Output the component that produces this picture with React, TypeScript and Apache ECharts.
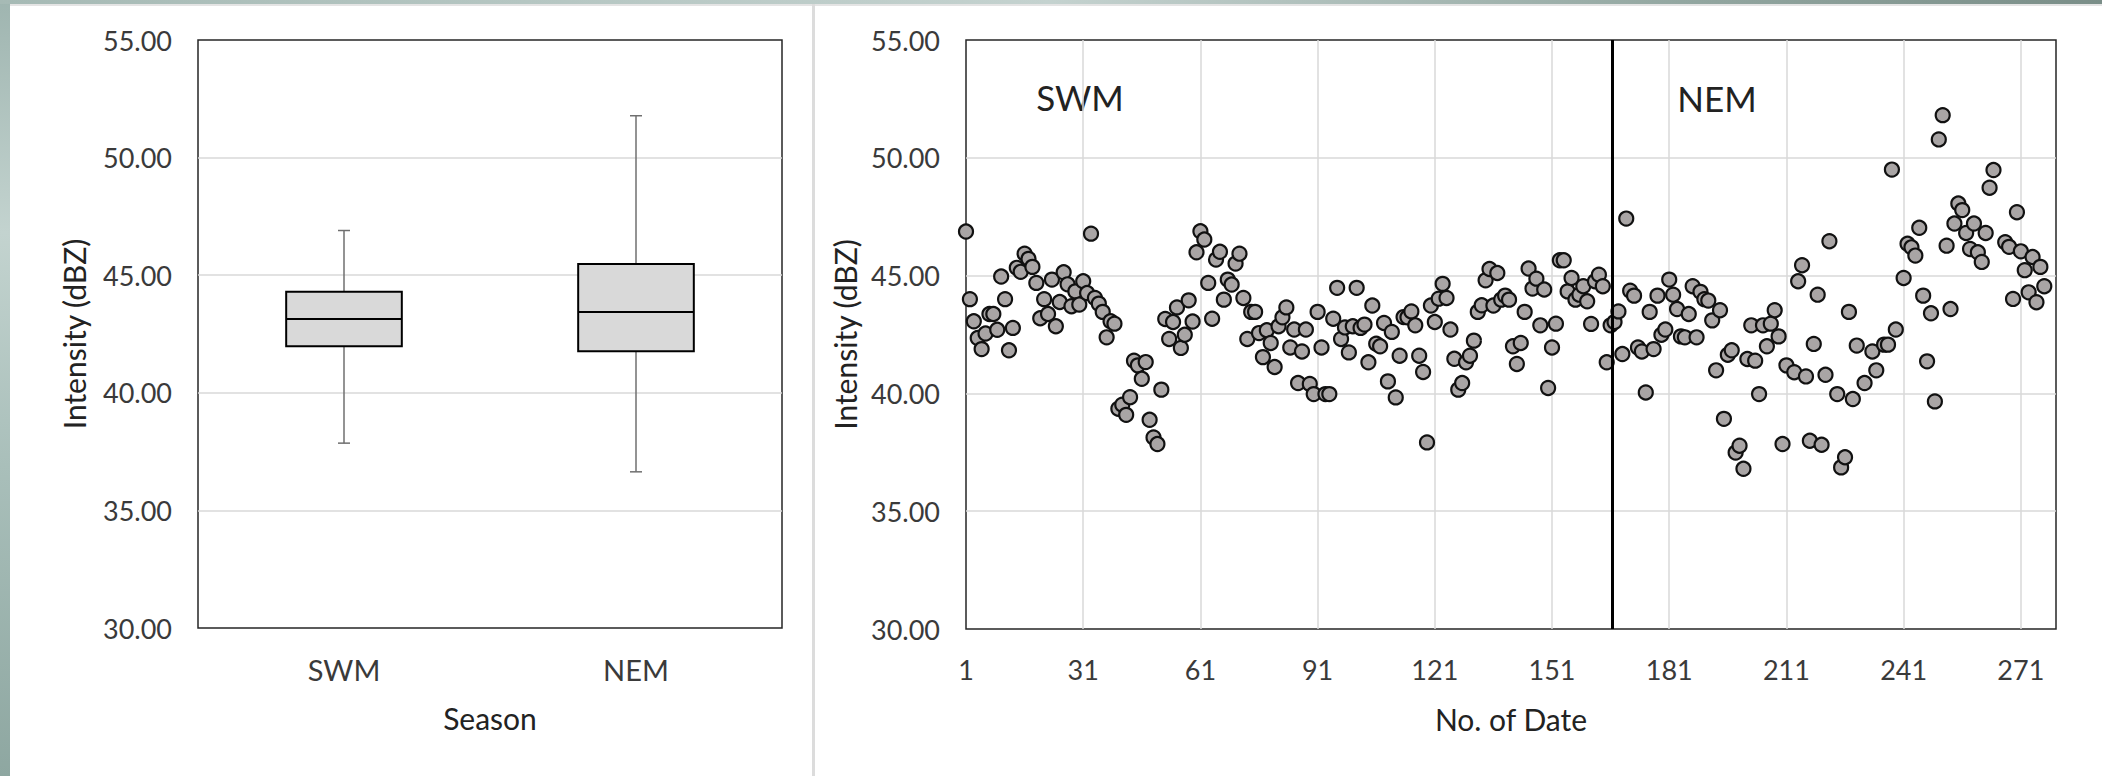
import React, { useEffect, useRef } from 'react';
import * as echarts from 'echarts';

// ---- Box plot (left panel) ----
const seasons = ['SWM', 'NEM'];
const whiskerLow = [37.86, 36.64];
const quartile1 = [41.98, 41.77];
const medians = [43.14, 43.44];
const quartile3 = [44.3, 45.48];
const whiskerHigh = [46.9, 51.78];

// ---- Daily intensity (right panel); position in array = No. of Date - 1 ----
const intensityByDate: (number | null)[] = [
  46.87, 44.0, 43.06, 42.35, 41.88, 42.54, 43.37, 43.37, 42.7, 44.96,
  44.0, 41.83, 42.78, 45.33, 45.16, 45.93, 45.71, 45.37, 44.69, 43.19,
  44.0, 43.37, 44.83, 42.85, 43.88, 45.14, 44.63, 43.7, 44.33, 43.77,
  44.76, 44.26, 46.78, 44.05, 43.81, 43.46, 42.38, 43.06, 42.96, 39.35,
  39.52, 39.09, 39.84, 41.39, 41.19, 40.62, 41.33, 38.88, 38.13, 37.85,
  40.16, 43.16, 42.31, 43.03, 43.65, 41.93, 42.49, 43.95, 43.05, 45.99,
  46.88, 46.53, 44.69, 43.17, 45.68, 46.01, 43.98, 44.83, 44.62, 45.51,
  45.93, 44.05, 42.31, 43.46, 43.46, 42.56, 41.54, 42.68, 42.14, 41.12,
  42.85, 43.23, 43.65, 41.95, 42.71, 40.44, 41.78, 42.71, 40.4, 39.97,
  43.46, 41.95, 39.97, 39.97, 43.17, 44.48, 42.31, 42.8, 41.74, 42.85,
  44.48, 42.78, 42.92, 41.32, 43.73, 42.11, 42.0, 42.99, 40.51, 42.61,
  39.83, 41.6, 43.24, 43.23, 43.48, 42.89, 41.6, 40.91, 37.92, 43.73,
  43.03, 44.02, 44.65, 44.05, 42.71, 41.47, 40.16, 40.44, 41.32, 41.6,
  42.24, 43.46, 43.74, 44.8, 45.28, 43.73, 45.11, 43.98, 44.15, 43.98,
  42.0, 41.25, 42.14, 43.46, 45.3, 44.45, 44.87, 42.89, 44.41, 40.23,
  41.95, 42.96, 45.65, 45.65, 44.33, 44.9, 43.98, 44.19, 44.55, 43.91,
  42.95, 44.76, 45.04, 44.55, 41.32, 42.89, 43.03, 43.48, 41.67, 47.42,
  44.36, 44.15, 41.95, 41.78, 40.04, 43.46, 41.88, 44.15, 42.49, 42.71,
  44.83, 44.19, 43.58, 42.42, 42.38, 43.37, 44.55, 42.38, 44.31, 44.0,
  43.94, 43.1, 40.98, 43.53, 38.92, 41.64, 41.83, 37.49, 37.78, 36.8,
  41.46, 42.89, 41.39, 39.97, 42.89, 42.0, 42.96, 43.53, 42.42, 37.85,
  41.19, null, 40.9, 44.76, 45.44, 40.72, 37.99, 42.1, 44.19, 37.82,
  40.79, 46.46, null, 39.97, 36.86, 37.29, 43.46, 39.76, 42.03, null,
  40.44, null, 41.78, 40.98, null, 42.07, 42.07, 49.5, 42.71, null,
  44.9, 46.35, 46.2, 45.85, 47.03, 44.15, 41.36, 43.4, 39.66, 50.78,
  51.81, 46.27, 43.58, 47.21, 48.06, 47.78, 46.81, 46.13, 47.21, 45.99,
  45.58, 46.81, 48.73, 49.48, null, null, 46.42, 46.22, 44.01, 47.69,
  46.03, 45.23, 44.29, 45.79, 43.87, 45.37, 44.55,
];
const seasonBoundary = 166.3; // No. of Date where NEM begins
const seasonLabels = ['SWM', 'NEM'];

const FONT = 'Lato, "Open Sans", "Noto Sans", sans-serif';
const TICK_COLOR = '#3a3a3a';
const TITLE_COLOR = '#222222';
const GRID_COLOR = '#d9d9d9';

function buildOption(): any {
  const scatterData = intensityByDate
    .map((v, i) => (v === null ? null : [i + 1, v]))
    .filter((d) => d !== null);

  const yAxisCommon = {
    type: 'value',
    min: 30,
    max: 55,
    interval: 5,
    axisLine: { show: false },
    axisTick: { show: false },
    axisLabel: {
      fontSize: 27,
      color: TICK_COLOR,
      margin: 26,
      fontFamily: FONT,
      formatter: (v: number) => v.toFixed(2),
    },
    splitLine: {
      show: true,
      showMinLine: false,
      showMaxLine: false,
      lineStyle: { color: GRID_COLOR, width: 1.5 },
    },
    name: 'Intensity (dBZ)',
    nameLocation: 'middle',
    nameTextStyle: { fontSize: 30, color: TITLE_COLOR, fontFamily: FONT },
  };

  return {
    animation: false,
    backgroundColor: '#ffffff',
    textStyle: { fontFamily: FONT },
    grid: [
      { left: 198, top: 40, width: 584, height: 588, show: true, borderColor: '#262626', borderWidth: 1.5, backgroundColor: 'transparent' },
      { left: 966, top: 40, width: 1090, height: 589, show: true, borderColor: '#262626', borderWidth: 1.5, backgroundColor: 'transparent' },
    ],
    xAxis: [
      {
        type: 'category',
        gridIndex: 0,
        data: seasons,
        axisLine: { show: false },
        axisTick: { show: false },
        axisLabel: { fontSize: 29, color: TICK_COLOR, margin: 27, fontFamily: FONT },
        splitLine: { show: false },
        name: 'Season',
        nameLocation: 'middle',
        nameGap: 75,
        nameTextStyle: { fontSize: 30, color: TITLE_COLOR, fontFamily: FONT },
      },
      {
        type: 'value',
        gridIndex: 1,
        min: 1,
        max: 280,
        interval: 30,
        axisLine: { show: false },
        axisTick: { show: false },
        axisLabel: { fontSize: 27, color: TICK_COLOR, margin: 27, fontFamily: FONT, showMaxLabel: false },
        splitLine: {
          show: true,
          showMinLine: false,
          showMaxLine: false,
          lineStyle: { color: GRID_COLOR, width: 1.5 },
        },
        name: 'No. of Date',
        nameLocation: 'middle',
        nameGap: 75,
        nameTextStyle: { fontSize: 30, color: TITLE_COLOR, fontFamily: FONT },
      },
    ],
    yAxis: [
      { ...yAxisCommon, gridIndex: 0, nameGap: 109 },
      { ...yAxisCommon, gridIndex: 1, nameGap: 104 },
    ],
    graphic: [
      {
        type: 'rect', z: -10, silent: true,
        shape: { x: 0, y: 0, width: 10, height: 776 },
        style: {
          fill: new echarts.graphic.LinearGradient(0, 0, 0, 1, [
            { offset: 0, color: '#9fb5b0' },
            { offset: 0.3, color: '#c3d3cf' },
            { offset: 0.6, color: '#a9bfba' },
            { offset: 1, color: '#8ea7a1' },
          ]),
        },
      },
      {
        type: 'rect', z: -10, silent: true,
        shape: { x: 0, y: 0, width: 2102, height: 4 },
        style: {
          fill: new echarts.graphic.LinearGradient(0, 0, 1, 0, [
            { offset: 0, color: '#a6bab5' },
            { offset: 0.5, color: '#c4d2cf' },
            { offset: 0.8, color: '#93a7a1' },
            { offset: 1, color: '#7a8e88' },
          ]),
        },
      },
      {
        type: 'rect', z: -10, silent: true,
        shape: { x: 10, y: 4, width: 2092, height: 2 },
        style: { fill: '#e4e4e4' },
      },
      {
        type: 'rect', z: -10, silent: true,
        shape: { x: 812, y: 4, width: 3, height: 772 },
        style: { fill: '#dcdcdc' },
      },
      {
        type: 'text', silent: true,
        x: 1080, y: 97,
        style: { text: seasonLabels[0], fontSize: 35, fill: TITLE_COLOR, fontFamily: FONT, align: 'center', verticalAlign: 'middle' },
      },
      {
        type: 'text', silent: true,
        x: 1717, y: 98,
        style: { text: seasonLabels[1], fontSize: 35, fill: TITLE_COLOR, fontFamily: FONT, align: 'center', verticalAlign: 'middle' },
      },
    ],
    series: [
      {
        type: 'custom',
        xAxisIndex: 0,
        yAxisIndex: 0,
        data: seasons.map((_, i) => [i, whiskerLow[i], quartile1[i], medians[i], quartile3[i], whiskerHigh[i]]),
        encode: { x: 0, y: [1, 2, 3, 4, 5] },
        renderItem: (params: any, api: any) => {
          const idx = api.value(0);
          const pLow = api.coord([idx, api.value(1)]);
          const pQ1 = api.coord([idx, api.value(2)]);
          const pMed = api.coord([idx, api.value(3)]);
          const pQ3 = api.coord([idx, api.value(4)]);
          const pHigh = api.coord([idx, api.value(5)]);
          const band = api.size([1, 0])[0];
          const half = band * 0.198;
          const cap = 6;
          const cx = pMed[0];
          const whisker = { stroke: '#6f6f6f', lineWidth: 1.5 };
          return {
            type: 'group',
            children: [
              { type: 'line', shape: { x1: cx, y1: pHigh[1], x2: cx, y2: pQ3[1] }, style: whisker },
              { type: 'line', shape: { x1: cx, y1: pQ1[1], x2: cx, y2: pLow[1] }, style: whisker },
              { type: 'line', shape: { x1: cx - cap, y1: pHigh[1], x2: cx + cap, y2: pHigh[1] }, style: whisker },
              { type: 'line', shape: { x1: cx - cap, y1: pLow[1], x2: cx + cap, y2: pLow[1] }, style: whisker },
              {
                type: 'rect',
                shape: { x: cx - half, y: pQ3[1], width: 2 * half, height: pQ1[1] - pQ3[1] },
                style: { fill: '#d9d9d9', stroke: '#000000', lineWidth: 2 },
              },
              { type: 'line', shape: { x1: cx - half, y1: pMed[1], x2: cx + half, y2: pMed[1] }, style: { stroke: '#000000', lineWidth: 2 } },
            ],
          };
        },
      },
      {
        type: 'scatter',
        xAxisIndex: 1,
        yAxisIndex: 1,
        data: scatterData,
        symbol: 'circle',
        symbolSize: 14,
        itemStyle: { color: '#a9a5a5', borderColor: '#111111', borderWidth: 2.2, opacity: 1 },
        markLine: {
          silent: true,
          symbol: 'none',
          label: { show: false },
          lineStyle: { color: '#000000', width: 3, type: 'solid' },
          data: [{ xAxis: seasonBoundary }],
        },
      },
    ],
  };
}

export default function App() {
  const ref = useRef<HTMLDivElement>(null);
  useEffect(() => {
    document.body.style.margin = '0';
    document.body.style.overflow = 'hidden';
    const chart = echarts.init(ref.current as HTMLDivElement, null, { renderer: 'svg' });
    chart.setOption(buildOption());
    return () => chart.dispose();
  }, []);
  return <div ref={ref} style={{ width: 2102, height: 776, background: '#ffffff' }} />;
}
